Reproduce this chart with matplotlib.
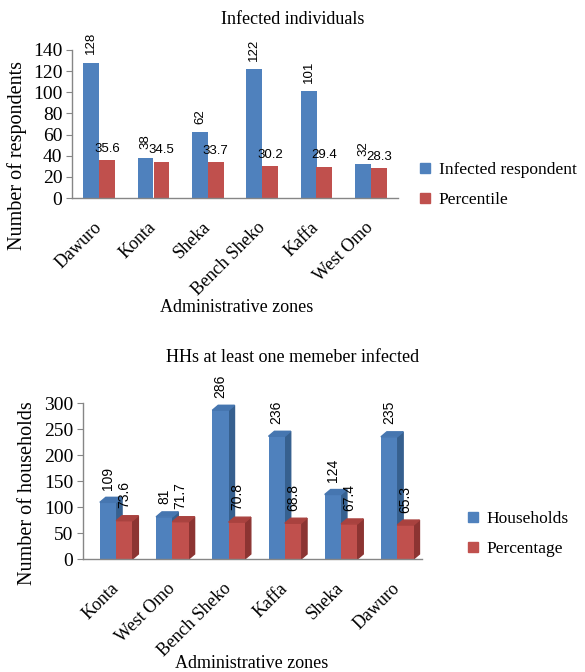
import numpy as np
import matplotlib
matplotlib.use('Agg')
import matplotlib.pyplot as plt
import matplotlib.transforms as mtransforms
from matplotlib.lines import Line2D
from matplotlib.patches import Polygon

# Infected individuals per zone
zones_ind = ['Dawuro', 'Konta', 'Sheka', 'Bench Sheko', 'Kaffa', 'West Omo']
infected = [128, 38, 62, 122, 101, 32]
percentile = [35.6, 34.5, 33.7, 30.2, 29.4, 28.3]

# Households with at least one infected member
zones_hh = ['Konta', 'West Omo', 'Bench Sheko', 'Kaffa', 'Sheka', 'Dawuro']
households = [109, 81, 286, 236, 124, 235]
percentage = [73.6, 71.7, 70.8, 68.8, 67.4, 65.3]

blue = '#4F81BD'
red = '#C0504D'
blue_side = '#36608F'
blue_top = '#4676B0'
red_side = '#8C3432'
red_top = '#A9423F'
axis_col = '#868686'

plt.rcParams['font.family'] = ['Liberation Serif']
lab_font = 'Liberation Sans'

W, H = 585, 672
fig = plt.figure(figsize=(W / 100, H / 100), dpi=100)


def px(x, y):
    # pixel position (from top-left) -> figure fraction
    return x / W, 1 - y / H


def style_axes(ax, ymax, step):
    ax.set_ylim(0, ymax)
    ax.set_yticks(np.arange(0, ymax + 1, step))
    for s in ['top', 'right']:
        ax.spines[s].set_visible(False)
    for s in ['left', 'bottom']:
        ax.spines[s].set_color(axis_col)
        ax.spines[s].set_linewidth(1.0)
    ax.tick_params(axis='y', length=4, color=axis_col, labelsize=14, pad=3)
    ax.tick_params(axis='x', length=0, labelsize=13, pad=15)


def set_zone_labels(ax, xs, names):
    ax.set_xticks(xs)
    ax.set_xticklabels(names, rotation=45, ha='right', rotation_mode='anchor')
    shift = mtransforms.ScaledTranslation(-0.06, 0, fig.dpi_scale_trans)
    for lbl in ax.get_xticklabels():
        lbl.set_transform(lbl.get_transform() + shift)


# ---- top chart: flat clustered bars
ax1 = fig.add_axes([72 / W, 1 - 198 / H, 326 / W, 148 / H])
x = np.arange(len(zones_ind))
w = 0.29
ax1.bar(x - w / 2, infected, w, color=blue)
ax1.bar(x + w / 2, percentile, w, color=red)
ax1.set_xlim(-0.5, 5.5)
style_axes(ax1, 140, 20)
set_zone_labels(ax1, x, zones_ind)

for xi, v in zip(x, infected):
    ax1.annotate(str(v), (xi - w / 2, v), xytext=(0, 6), textcoords='offset points',
                 rotation=90, ha='center', va='bottom', fontsize=9.5, family=lab_font)
for xi, v in zip(x, percentile):
    ax1.annotate(f'{v}', (xi + w / 2, v), xytext=(0, 4), textcoords='offset points',
                 ha='center', va='bottom', fontsize=9.5, family=lab_font)

fig.text(*px(293, 20), 'Infected individuals', ha='center', va='center', fontsize=13)
fig.text(*px(17, 156), 'Number of respondents', rotation=90, ha='center', va='center',
         fontsize=14.5)
fig.text(*px(237, 307), 'Administrative zones', ha='center', va='center', fontsize=13)

h1 = [Line2D([], [], marker='s', ls='none', color=blue, markersize=7),
      Line2D([], [], marker='s', ls='none', color=red, markersize=7)]
fig.legend(h1, ['Infected respondent', 'Percentile'], loc='center left',
           bbox_to_anchor=px(411, 185), frameon=False, fontsize=12.5,
           handlelength=0.6, handletextpad=0.5, labelspacing=0.75, borderpad=0)

# ---- bottom chart: bars with a drawn depth face
ax2 = fig.add_axes([83 / W, 1 - 559 / H, 339 / W, 156 / H])
x2 = np.arange(len(zones_hh))
ax2.set_xlim(-0.59, 5.44)
style_axes(ax2, 300, 50)
dx = 0.105
dy = 9.6


def bars3d(ax, xs, vals, col, side, top):
    ax.bar(xs, vals, w, color=col, zorder=2)
    for xc, v in zip(xs, vals):
        xl, xr = xc - w / 2, xc + w / 2
        ax.add_patch(Polygon([(xr, 0), (xr + dx, dy), (xr + dx, v + dy), (xr, v)],
                             closed=True, color=side, zorder=1.9))
        ax.add_patch(Polygon([(xl, v), (xl + dx, v + dy), (xr + dx, v + dy), (xr, v)],
                             closed=True, color=top, zorder=2.1))


bars3d(ax2, x2 - w / 2, households, blue, blue_side, blue_top)
bars3d(ax2, x2 + w / 2, percentage, red, red_side, red_top)
set_zone_labels(ax2, x2, zones_hh)

for xi, v in zip(x2, households):
    ax2.annotate(str(v), (xi - w / 2, v), xytext=(0, 9), textcoords='offset points',
                 rotation=90, ha='center', va='bottom', fontsize=10, family=lab_font)
for xi, v in zip(x2, percentage):
    ax2.annotate(f'{v}', (xi + w / 2, v), xytext=(0, 9), textcoords='offset points',
                 rotation=90, ha='center', va='bottom', fontsize=10, family=lab_font)

fig.text(*px(293, 358), 'HHs at least one memeber infected', ha='center', va='center',
         fontsize=13)
fig.text(*px(28, 493), 'Number of households', rotation=90, ha='center', va='center',
         fontsize=14.5)
fig.text(*px(252, 663), 'Administrative zones', ha='center', va='center', fontsize=13)

h2 = [Line2D([], [], marker='s', ls='none', color=blue, markersize=7),
      Line2D([], [], marker='s', ls='none', color=red, markersize=7)]
fig.legend(h2, ['Households', 'Percentage'], loc='center left',
           bbox_to_anchor=px(459, 534), frameon=False, fontsize=12.5,
           handlelength=0.6, handletextpad=0.5, labelspacing=0.75, borderpad=0)

fig.savefig('out.png', dpi=100)
